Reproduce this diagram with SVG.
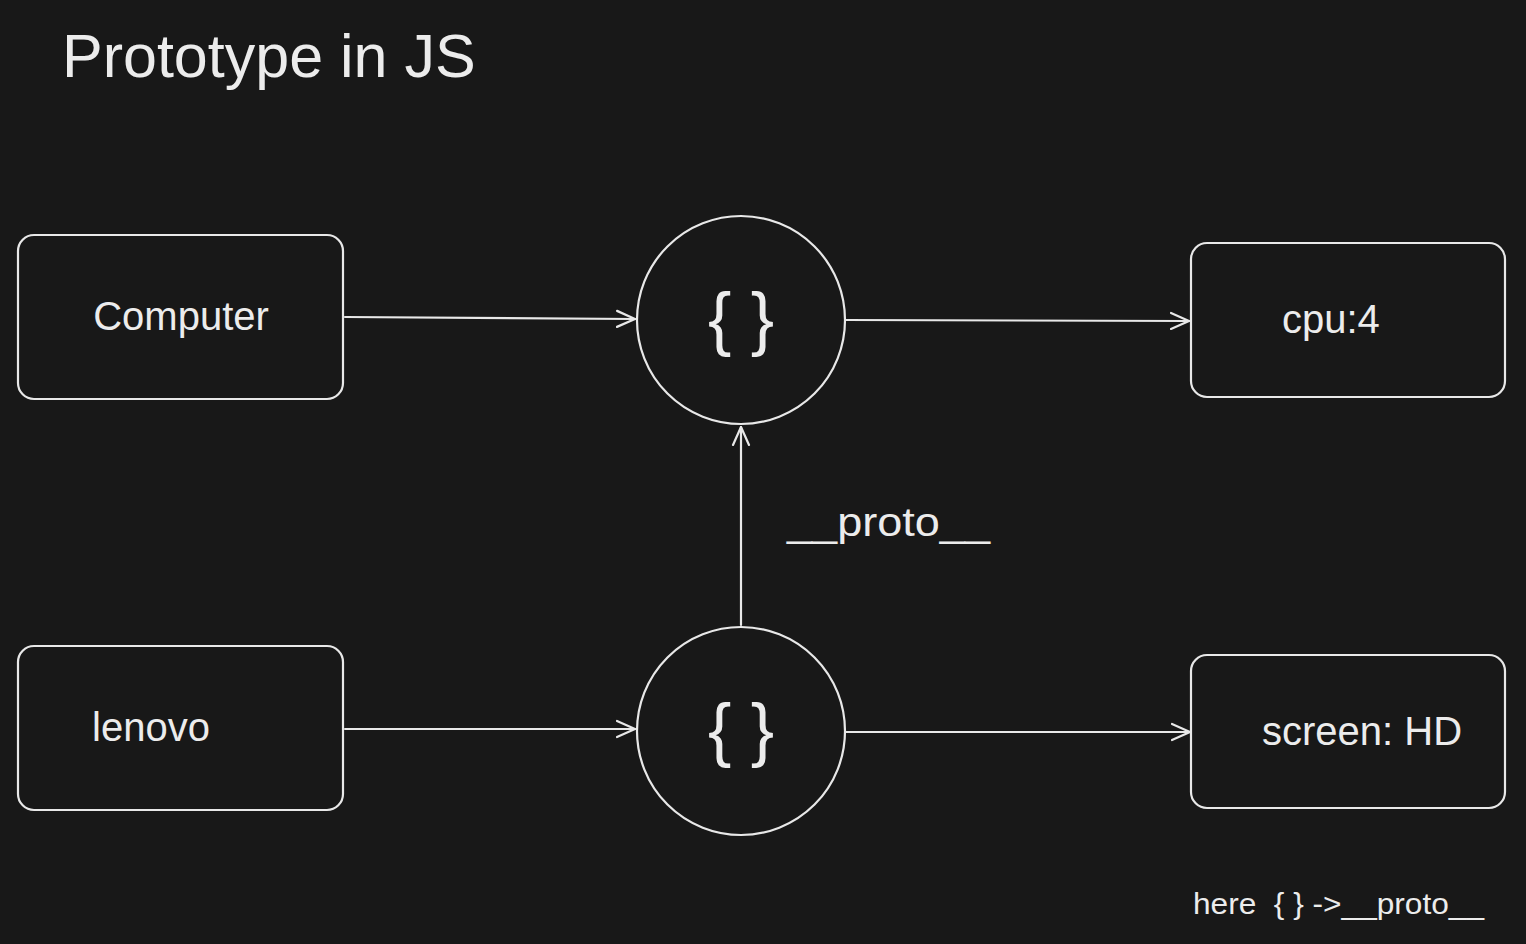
<svg xmlns="http://www.w3.org/2000/svg" width="1526" height="944" viewBox="0 0 1526 944">
<style>
.bg{fill:#181818}
.shape{fill:none;stroke:#e8e8e8;stroke-width:2.2}
.lbl{fill:#ececec;font-family:"Liberation Sans",Arial,sans-serif;font-size:40px}
.brace{fill:#ececec;font-family:"Liberation Sans",Arial,sans-serif;font-size:70px}
.conn{fill:none;stroke:#e8e8e8;stroke-width:2.2;stroke-linecap:round}
</style>
<defs>
<marker id="arr" viewBox="0 0 20 20" refX="19" refY="10" markerWidth="20" markerHeight="20" markerUnits="userSpaceOnUse" orient="auto">
<path d="M1 2 L19 10 L1 18" fill="none" stroke="#e8e8e8" stroke-width="2.2" stroke-linecap="round" stroke-linejoin="round"/>
</marker>
</defs>
<rect class="bg" x="0" y="0" width="1526" height="944"/>
<text x="62" y="77" fill="#ececec" font-family="Liberation Sans,Arial,sans-serif" font-size="61">Prototype in JS</text>
<g id="computer"><rect class="shape" x="18" y="235" width="325" height="164" rx="16"/><text class="lbl" x="181" y="330" text-anchor="middle">Computer</text></g>
<g id="lenovo"><rect class="shape" x="18" y="646" width="325" height="164" rx="16"/><text class="lbl" x="92" y="741">lenovo</text></g>
<g id="proto1"><circle class="shape" cx="741" cy="320" r="104"/><text class="brace" x="741" y="342" text-anchor="middle">{ }</text></g>
<g id="proto2"><circle class="shape" cx="741" cy="731" r="104"/><text class="brace" x="741" y="753" text-anchor="middle">{ }</text></g>
<g id="cpu"><rect class="shape" x="1191" y="243" width="314" height="154" rx="16"/><text class="lbl" x="1282" y="333">cpu:4</text></g>
<g id="screen"><rect class="shape" x="1191" y="655" width="314" height="153" rx="16"/><text class="lbl" x="1262" y="745">screen: HD</text></g>
<g id="connectors">
<path class="conn" d="M345 317 L635 319" marker-end="url(#arr)"/>
<path class="conn" d="M846 320 L1189 321" marker-end="url(#arr)"/>
<path class="conn" d="M345 729 L635 729" marker-end="url(#arr)"/>
<path class="conn" d="M846 732 L1190 732" marker-end="url(#arr)"/>
<path class="conn" d="M741 625 L741 427" marker-end="url(#arr)"/>
</g>
<text class="lbl" x="787" y="536" textLength="203" lengthAdjust="spacingAndGlyphs">__proto__</text>
<text x="1193" y="914" fill="#ececec" font-family="Liberation Sans,Arial,sans-serif" font-size="30" xml:space="preserve" textLength="291" lengthAdjust="spacingAndGlyphs">here  { } -&gt;__proto__</text>
</svg>
